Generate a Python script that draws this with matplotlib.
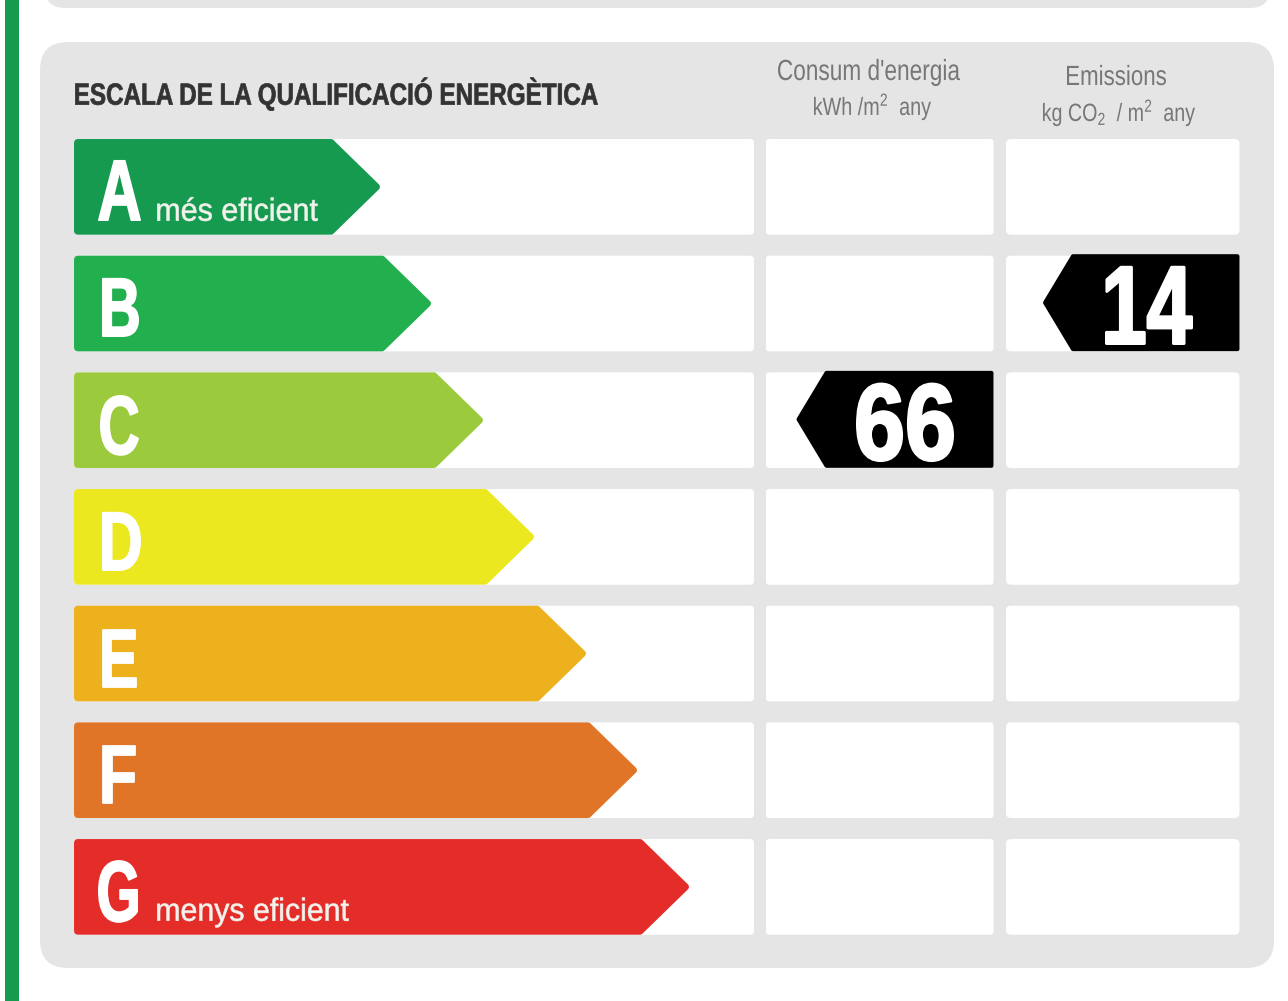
import matplotlib
matplotlib.use("Agg")
import matplotlib.pyplot as plt
from matplotlib.colors import to_rgb
from matplotlib.font_manager import FontProperties
from matplotlib.patches import FancyBboxPatch, Polygon, Rectangle
from matplotlib.text import Text
from matplotlib.textpath import TextPath
from matplotlib.transforms import Affine2D

plt.rcParams["font.family"] = ["Liberation Sans", "DejaVu Sans"]
plt.rcParams["mathtext.fontset"] = "custom"
plt.rcParams["mathtext.rm"] = "Liberation Sans"
plt.rcParams["mathtext.default"] = "regular"

letters = ["A", "B", "C", "D", "E", "F", "G"]
arrow_tips = [380, 431, 483, 534, 586, 637, 689]
colors = ["#159a50", "#22b04f", "#9bcb3c", "#ebe81f", "#eeb11e", "#e07527", "#e42d29"]
captions = {"A": "més eficient", "G": "menys eficient"}
title = "ESCALA DE LA QUALIFICACIÓ ENERGÈTICA"
consum_row, consum_value = "C", "66"
emissions_row, emissions_value = "B", "14"


class FitText(Text):
    """Real text whose glyphs are condensed to span x0..x1 (the reference type is a narrow face)."""

    def __init__(self, x0, x1, baseline, s, size, color, bold=False, stroke=0.0, zorder=5):
        super().__init__(x0, baseline, s, color=color, fontsize=size,
                         fontweight="bold" if bold else "normal", zorder=zorder)
        self._x1 = x1
        self._stroke = stroke

    def _layout_path(self):
        ax_ = self.axes
        fig_ = self.figure
        k = fig_.dpi / 72
        fp = FontProperties(family="Liberation Sans", weight=self.get_fontweight())
        path = TextPath((0, 0), self.get_text(), size=self.get_fontsize(), prop=fp)
        ext = path.get_extents()
        pad = self._stroke * k / 2
        px0 = ax_.transData.transform((self._x, self._y))
        px1 = ax_.transData.transform((self._x1, self._y))
        sx = (px1[0] - px0[0] - 2 * pad) / ext.width
        tr = Affine2D().translate(-ext.x0, 0).scale(sx, k).translate(px0[0] + pad, px0[1] + pad)
        return path, tr

    def get_window_extent(self, renderer=None, dpi=None):
        path, tr = self._layout_path()
        return path.get_extents(tr)

    def draw(self, renderer):
        if not self.get_visible():
            return
        path, tr = self._layout_path()
        gc = renderer.new_gc()
        gc.set_foreground(self.get_color())
        gc.set_linewidth(self._stroke)
        gc.set_joinstyle("round")
        renderer.draw_path(gc, path, tr, to_rgb(self.get_color()))
        gc.restore()
        self.stale = False


fig = plt.figure(figsize=(12.88, 10.01), dpi=100, facecolor="white")
ax = fig.add_axes([0, 0, 1, 1])
ax.set_xlim(0, 1288)
ax.set_ylim(1001, 0)
ax.axis("off")

GREY = "#e5e5e5"


def rbox(x0, y0, x1, y1, r, c, z=1):
    ax.add_patch(FancyBboxPatch((x0 + r, y0 + r), x1 - x0 - 2 * r, y1 - y0 - 2 * r,
                                boxstyle=f"round,pad={r},rounding_size={r}",
                                fc=c, ec="none", zorder=z))


def ftext(*a, **k):
    ax.add_artist(FitText(*a, **k))


def rounded_arrow(pts, color, z, lw=5):
    ax.add_patch(Polygon(pts, closed=True, fc=color, ec=color, lw=lw, joinstyle="round", zorder=z))


ax.add_patch(Rectangle((5, 0), 14, 1001, fc="#159a50", ec="none", zorder=1))
rbox(45, -40, 1270, 8, 20, GREY)
rbox(40, 42, 1274, 968, 28, GREY)

ROW_TOP, ROW_H, ROW_PITCH = 139, 95.7, 116.67
INK = {"A": (98, 141, 221, 62), "B": (102, 139, 337, 60), "C": (100, 139, 455, 60),
       "D": (102, 141, 571, 60), "E": (102, 137, 688, 60), "F": (102, 136, 804, 60),
       "G": (98, 138, 922, 62)}
CAP = {"A": (157, 318, 221), "G": (157, 349, 921)}

A_IN = 3.5
for i, (L, tip, c) in enumerate(zip(letters, arrow_tips, colors)):
    t = ROW_TOP + i * ROW_PITCH
    b = t + ROW_H
    m = (t + b) / 2
    rbox(74, t, 754, b, 4, "white", 2)
    rbox(766, t, 993.5, b, 3, "white", 2)
    rbox(1006, t, 1239.5, b, 5, "white", 2)
    rounded_arrow([(74 + A_IN, t + A_IN), (tip - 49, t + A_IN), (tip - A_IN, m),
                   (tip - 49, b - A_IN), (74 + A_IN, b - A_IN)], c, 3)
    x0, x1, bottom, size = INK[L]
    ftext(x0, x1, bottom, L, size, "white", bold=True, stroke=1.3)
    if L in captions:
        cx0, cx1, cb = CAP[L]
        ftext(cx0, cx1, cb, captions[L], 23, "#f2f2ec", stroke=0.4)

ftext(75, 598, 105, title, 22, "#333333", bold=True, stroke=0.5)

head = "#777777"
ftext(778, 960, 80, "Consum d'energia", 21, head)
ftext(1067, 1166, 85, "Emissions", 20, head)
ftext(814, 931, 115, r"kWh /m$^{2}$  any", 18, head)
ftext(1043, 1195, 121, r"kg CO$_{2}$  / m$^{2}$  any", 18, head)


def badge(row, right, left, value, x0, x1, bottom, size):
    i = letters.index(row)
    t = ROW_TOP + i * ROW_PITCH - 1.5
    b = t + 97
    m = (t + b) / 2
    ins = 2.1
    rounded_arrow([(right - ins, t + ins), (left + 30, t + ins), (left + ins, m),
                   (left + 30, b - ins), (right - ins, b - ins)], "black", 5, lw=3)
    ftext(x0, x1, bottom, value, size, "white", bold=True, stroke=2.0, zorder=6)


badge(consum_row, 993.5, 796.5, consum_value, 856, 954, 461, 78)
badge(emissions_row, 1239.5, 1043, emissions_value, 1105, 1193, 345, 80)

fig.savefig("out.png", dpi=100)
